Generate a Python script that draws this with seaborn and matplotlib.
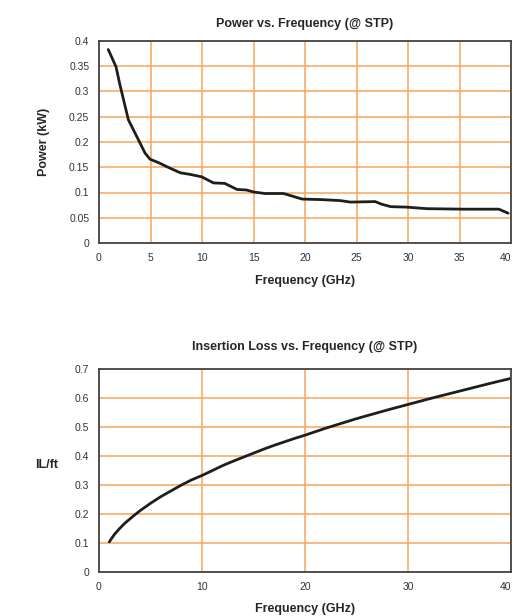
import pandas as pd
import seaborn as sns
import matplotlib.pyplot as plt

# Power vs frequency
freq_power = [0.9, 1.65, 2.0, 2.85, 3.66, 4.47, 4.95, 5.9, 6.9, 7.9, 8.8, 9.97,
              11.1, 12.2, 13.4, 14.3, 15.0, 16.1, 17.9, 18.9, 19.7, 21.5, 23.4,
              24.4, 26.8, 27.4, 28.3, 29.9, 31.8, 35.4, 38.8, 39.7]
power_kw = [0.383, 0.349, 0.316, 0.244, 0.211, 0.178, 0.166, 0.158, 0.148, 0.139,
            0.136, 0.131, 0.119, 0.118, 0.106, 0.105, 0.101, 0.098, 0.098, 0.092,
            0.087, 0.086, 0.084, 0.081, 0.082, 0.077, 0.072, 0.071, 0.068, 0.067,
            0.067, 0.059]

# Insertion loss vs frequency
freq_il = [1, 1.5, 2, 2.5, 3, 3.5, 4, 5, 6, 7, 8, 9, 10, 11, 12, 13, 14, 15, 16,
           17, 18, 19, 20, 22, 24, 25, 27, 28, 30, 32, 33, 35, 36, 38, 40]
il_ft = [0.104, 0.13, 0.15, 0.168, 0.183, 0.198, 0.212, 0.237, 0.26, 0.28, 0.30,
         0.318, 0.333, 0.35, 0.367, 0.382, 0.396, 0.41, 0.424, 0.437, 0.449, 0.461,
         0.472, 0.496, 0.518, 0.529, 0.549, 0.559, 0.578, 0.597, 0.606, 0.624, 0.633,
         0.651, 0.668]

power_ticks = [0, 0.05, 0.1, 0.15, 0.2, 0.25, 0.3, 0.35, 0.4]
power_ticklabels = ["0", "0.05", "0.1", "0.15", "0.2", "0.25", "0.3", "0.35", "0.4"]
il_ticks = [0, 0.1, 0.2, 0.3, 0.4, 0.5, 0.6, 0.7]
il_ticklabels = ["0", "0.1", "0.2", "0.3", "0.4", "0.5", "0.6", "0.7"]

sns.set_style("white")
plt.rcParams['font.family'] = ['Liberation Sans', 'DejaVu Sans']

grid_color = "#F7A55A"
fig = plt.figure(figsize=(5.14, 6.16), dpi=100)
ax1 = fig.add_axes([0.1926, 0.6055, 0.802, 0.328])
ax2 = fig.add_axes([0.1926, 0.0714, 0.802, 0.3295])

df_p = pd.DataFrame({"f": freq_power, "p": power_kw})
df_il = pd.DataFrame({"f": freq_il, "il": il_ft})

sns.lineplot(data=df_p, x="f", y="p", ax=ax1, color="#1e1e1e", linewidth=2.0)
sns.lineplot(data=df_il, x="f", y="il", ax=ax2, color="#1e1e1e", linewidth=2.0)

ax1.set_xlim(0, 40)
ax1.set_ylim(0, 0.4)
ax1.set_xticks(range(0, 41, 5))
ax1.set_yticks(power_ticks)
ax1.set_yticklabels(power_ticklabels)
ax1.set_title("Power vs. Frequency (@ STP)", fontsize=9, fontweight="bold", pad=10)
ax1.set_xlabel("Frequency (GHz)", fontsize=9, fontweight="bold", labelpad=9)
ax1.set_ylabel("Power (kW)", fontsize=9, fontweight="bold", labelpad=14)

ax2.set_xlim(0, 40)
ax2.set_ylim(0, 0.7)
ax2.set_xticks(range(0, 41, 10))
ax2.set_yticks(il_ticks)
ax2.set_yticklabels(il_ticklabels)
ax2.set_title("Insertion Loss vs. Frequency (@ STP)", fontsize=9, fontweight="bold", pad=14)
ax2.set_xlabel("Frequency (GHz)", fontsize=9, fontweight="bold", labelpad=8)
ax2.set_ylabel("IL/ft", fontsize=9, fontweight="bold", rotation=0, labelpad=20)

for ax in (ax1, ax2):
    ax.grid(True, color=grid_color, linewidth=1.1)
    ax.set_axisbelow(True)
    ax.tick_params(labelsize=7.5, length=0, pad=7, colors="#333333")
    for s in ax.spines.values():
        s.set_color("#444444")
        s.set_linewidth(1.3)
    # keep the last x label inside the figure
    ax.get_xticklabels()[-1].set_horizontalalignment("right")

plt.savefig("out.png", dpi=100)
